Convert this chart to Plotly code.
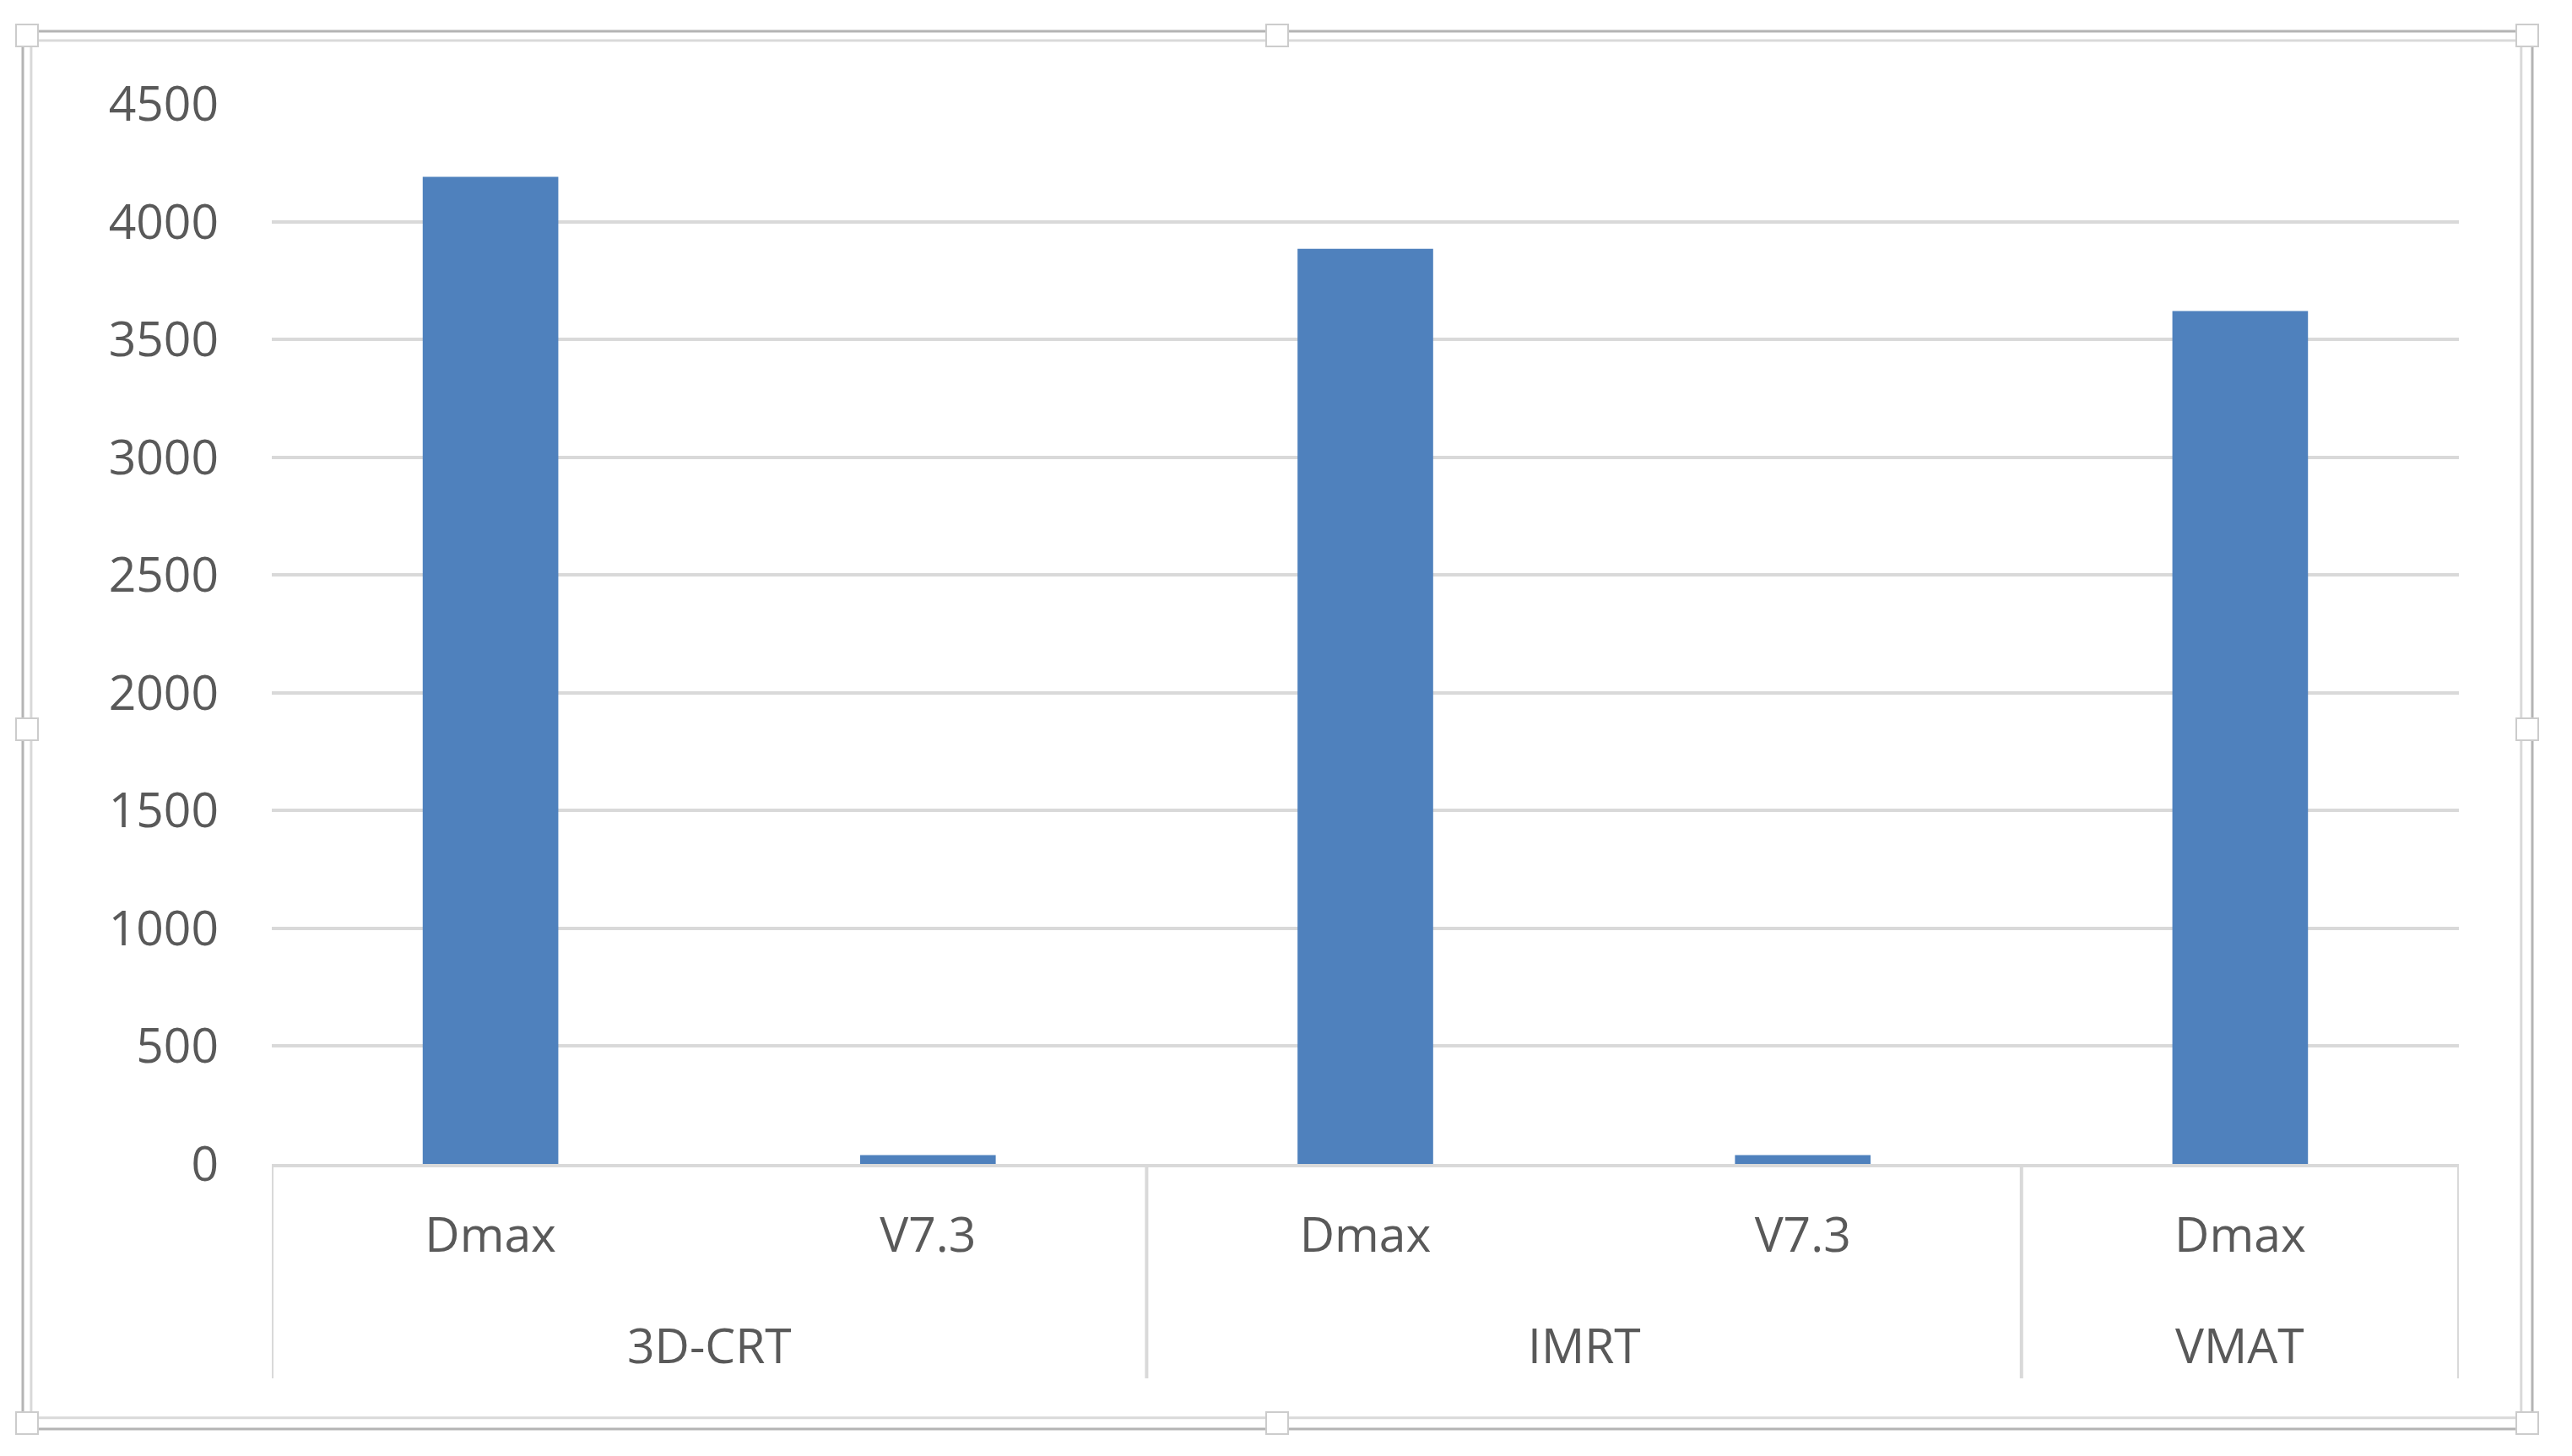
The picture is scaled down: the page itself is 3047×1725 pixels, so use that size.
import plotly.graph_objects as go

# ---- data ----
groups = ["3D-CRT", "IMRT", "VMAT"]
group_sizes = [2, 2, 1]
subcats = ["Dmax", "V7.3", "Dmax", "V7.3", "Dmax"]
values = [4190, 38, 3885, 38, 3620]
y_ticks = [0, 500, 1000, 1500, 2000, 2500, 3000, 3500, 4000, 4500]

W, H = 3047, 1725
OFF = 8  # default page body margin
L, R, T, B = 322, 2913, 123, 1379  # plot area in screen pixels

FONT = "Open Sans"
TXT = "#595959"
GRID = "#d9d9d9"
FS = 57

xpos = list(range(len(values)))

fig = go.Figure()
fig.add_trace(go.Bar(
    x=xpos, y=values,
    marker=dict(color="#4f81bd", line=dict(width=0)),
    showlegend=False,
))

def px(x):
    return (x - L) / (R - L)

def py(y):
    return (B - y) / (B - T)

shapes = []
annotations = []
# outer frame (double line)
for off, col in [(0, "#b4b4b4"), (11, "#d9d9d9")]:
    shapes.append(dict(type="rect", xref="paper", yref="paper",
                       x0=px(27 + off * 0.9), x1=px(3000 - off * 1.2),
                       y0=py(37 + off), y1=py(1693 - off * 1.2),
                       line=dict(color=col, width=3), fillcolor="rgba(0,0,0,0)", layer="below"))
# handles
for (cx, cy) in [(32, 42), (1513, 42), (2994, 42), (32, 864), (2994, 864),
                 (32, 1686), (1513, 1686), (2994, 1686)]:
    shapes.append(dict(type="rect", xref="paper", yref="paper",
                       x0=px(cx - 13), x1=px(cx + 13), y0=py(cy - 13), y1=py(cy + 13),
                       line=dict(color="#cccccc", width=2), fillcolor="white", layer="above"))

# group dividers and group labels (second category level)
start = 0
bounds = [-0.5]
for g, n in zip(groups, group_sizes):
    center = start + (n - 1) / 2
    annotations.append(dict(x=center, xref="x", y=py(1593), yref="paper",
                            text=g, showarrow=False, xanchor="center", yanchor="middle",
                            font=dict(family=FONT, size=FS, color=TXT)))
    start += n
    bounds.append(start - 0.5)
for b in bounds:
    shapes.append(dict(type="line", xref="x", yref="paper",
                       x0=b, x1=b, y0=0, y1=py(1633),
                       line=dict(color=GRID, width=4), layer="below"))

fig.update_layout(
    width=W, height=H,
    margin=dict(l=L - OFF, r=W - (R - OFF), t=T - OFF, b=H - (B - OFF), autoexpand=False),
    paper_bgcolor="white", plot_bgcolor="white",
    bargap=0.69,
    font=dict(family=FONT, size=FS, color=TXT),
    shapes=shapes,
    annotations=annotations,
    xaxis=dict(
        range=[-0.5, len(values) - 0.5],
        tickvals=xpos, ticktext=subcats,
        showline=True, linecolor=GRID, linewidth=4,
        showgrid=False, zeroline=False,
        tickfont=dict(family=FONT, size=FS, color=TXT),
        ticks="", ticklabelstandoff=32,
    ),
    yaxis=dict(
        range=[0, 4500], tickvals=y_ticks,
        showgrid=True, gridcolor=GRID, gridwidth=4,
        zeroline=False, showline=False,
        tickfont=dict(family=FONT, size=FS, color=TXT),
        ticks="", ticklabelstandoff=62,
    ),
)

fig.write_html("out.html")
